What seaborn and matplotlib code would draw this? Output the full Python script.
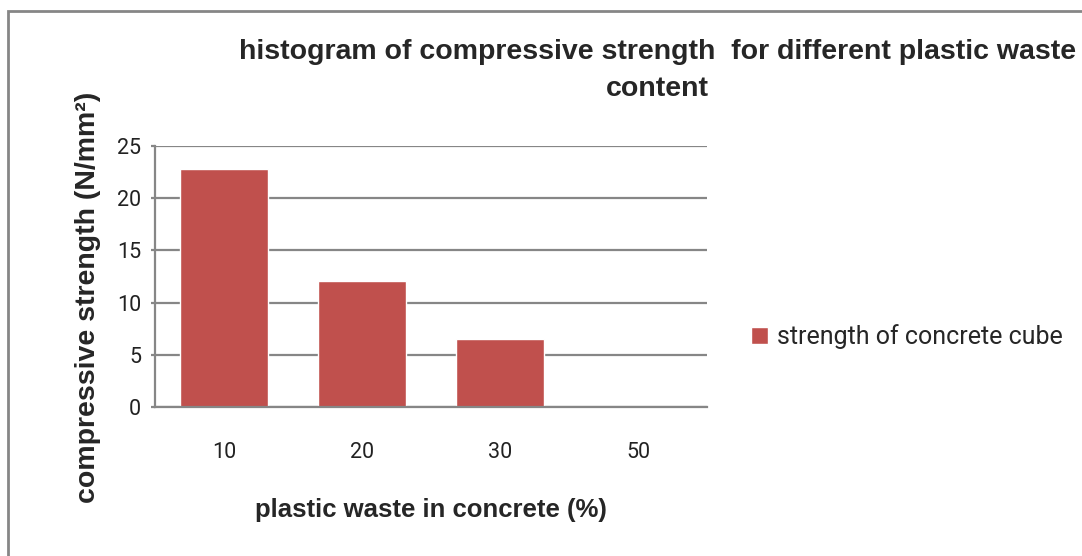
import pandas as pd
import seaborn as sns
import matplotlib.pyplot as plt
from matplotlib.patches import Rectangle

# data
waste_content = ["10", "20", "30", "50"]
strength = [22.8, 12.1, 6.5, 0.0]
y_ticks = [0, 5, 10, 15, 20, 25]

df = pd.DataFrame({"content": waste_content, "strength": strength})

sns.set_style("white")
plt.rcParams["font.family"] = ["Roboto", "DejaVu Sans"]

fig = plt.figure(figsize=(10.82, 5.56), dpi=100)
ax = fig.add_axes([0.1433, 0.268, 0.5101, 0.4694])

sns.barplot(data=df, x="content", y="strength", color="#C0504D",
            width=0.64, saturation=1, label="strength of concrete cube", ax=ax)

ax.set_ylim(0, 25)
ax.set_yticks(y_ticks)
ax.yaxis.grid(True, color="#868686", linewidth=1.6)
ax.set_axisbelow(True)
for side in ["top", "right"]:
    ax.spines[side].set_visible(False)
for side in ["left", "bottom"]:
    ax.spines[side].set_color("#868686")
    ax.spines[side].set_linewidth(1.6)
ax.tick_params(axis="y", left=True, length=3, width=1.6, color="#868686",
               pad=7, labelsize=15.5, labelcolor="#222222")
ax.tick_params(axis="x", bottom=False, pad=22, labelsize=15.5, labelcolor="#222222")

bold_family = ["Liberation Sans", "DejaVu Sans"]
ax.set_ylabel("compressive strength (N/mm²)", fontsize=20.5, fontweight="bold",
              family=bold_family, va="center")
ax.yaxis.set_label_coords(-0.121, 0.42)
ax.set_xlabel("plastic waste in concrete (%)", fontsize=18.5, fontweight="bold",
              family=bold_family)
ax.xaxis.set_label_coords(0.5, -0.35)

if ax.legend_:
    ax.legend_.remove()
fig.legend(*ax.get_legend_handles_labels(), loc="center left",
           bbox_to_anchor=(0.673, 1 - 337 / 556), frameon=False, fontsize=18,
           handlelength=0.7, handleheight=0.7, handletextpad=0.35)

fig.text(0.608, 0.873,
         "histogram of compressive strength  for different plastic waste\ncontent",
         ha="center", va="center", multialignment="center", fontsize=20.5,
         fontweight="bold", linespacing=1.55, stretch="condensed",
         family=["Liberation Sans Narrow", "DejaVu Sans Condensed",
                 "Liberation Sans", "DejaVu Sans"])

# outer chart border (only top and left edges fall inside the image)
fig.patches.append(Rectangle((8 / 1082, -0.1), 1.2, 1 - 11 / 556 + 0.1,
                             transform=fig.transFigure, fill=False,
                             edgecolor="#868686", linewidth=2))

fig.savefig("out.png", dpi=100)
